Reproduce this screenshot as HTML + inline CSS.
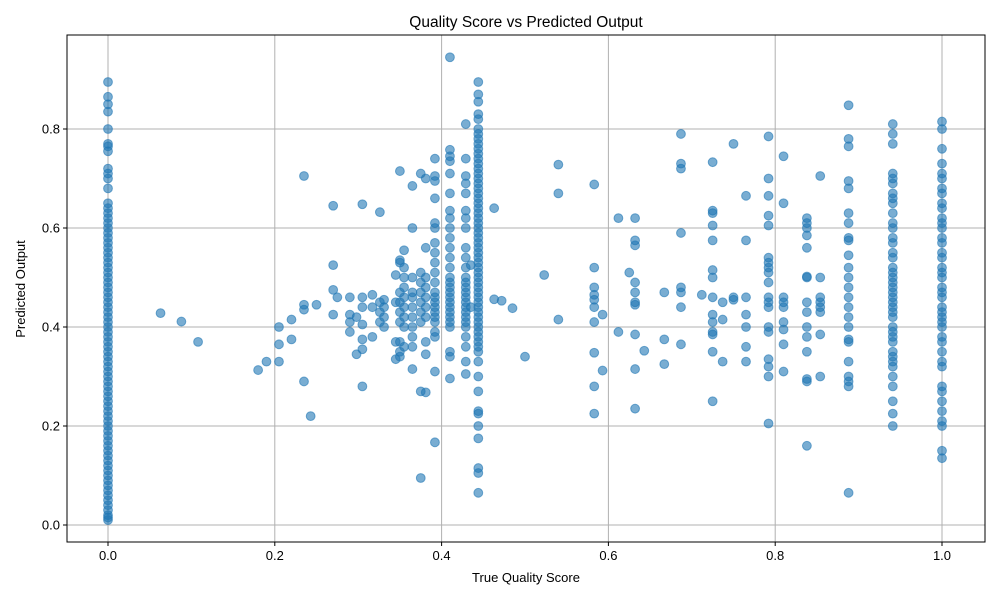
<!DOCTYPE html>
<html><head><meta charset="utf-8"><style>
body{margin:0;background:#fff;}
svg{display:block;font-family:"Liberation Sans","DejaVu Sans",sans-serif;}
</style></head><body>
<svg id="chart" width="1000" height="600">
<rect x="0" y="0" width="1000" height="600" fill="#fff"/>
<g id="grid"></g>
<g id="points"></g>
<rect x="67" y="35" width="918" height="507" fill="none" stroke="#000" stroke-width="1"/>
<g id="axes"></g>
<text x="526" y="27" text-anchor="middle" font-size="15.5">Quality Score vs Predicted Output</text>
<text x="526" y="582" text-anchor="middle" font-size="13">True Quality Score</text>
<text x="25" y="289" text-anchor="middle" font-size="13" transform="rotate(-90 25 289)">Predicted Output</text>
</svg>
<script>
const xTicks=[0,0.2,0.4,0.6,0.8,1.0];
const xTickLabels=["0.0","0.2","0.4","0.6","0.8","1.0"];
const yTicks=[0,0.2,0.4,0.6,0.8];
const yTickLabels=["0.0","0.2","0.4","0.6","0.8"];
const colX=[0,0.444,0.941,1.0,0.888,0.838,0.854,0.81,0.792,0.765,0.75,0.737,0.725,0.712,0.687,0.667,0.643,0.632,0.625,0.612,0.593,0.583,0.54,0.523,0.5,0.485,0.472,0.463,0.429,0.435,0.41,0.392,0.381,0.375,0.365,0.355,0.35,0.345,0.331,0.326,0.317,0.305,0.298,0.29,0.275,0.27,0.25,0.243,0.235,0.22,0.205,0.19,0.18,0.108,0.088,0.063];
const colY=[
[0.01,0.015,0.02,0.03,0.04,0.05,0.06,0.07,0.08,0.09,0.1,0.11,0.12,0.13,0.14,0.15,0.16,0.17,0.18,0.19,0.2,0.21,0.22,0.23,0.24,0.25,0.26,0.27,0.28,0.29,0.3,0.31,0.32,0.33,0.34,0.35,0.36,0.37,0.38,0.39,0.4,0.41,0.42,0.43,0.44,0.45,0.46,0.47,0.48,0.49,0.5,0.51,0.52,0.53,0.54,0.55,0.56,0.57,0.58,0.59,0.6,0.61,0.62,0.63,0.64,0.65,0.68,0.7,0.71,0.72,0.755,0.765,0.77,0.8,0.835,0.85,0.865,0.895],
[0.065,0.105,0.115,0.175,0.2,0.225,0.23,0.27,0.3,0.33,0.35,0.36,0.37,0.38,0.39,0.4,0.41,0.42,0.43,0.44,0.45,0.46,0.47,0.48,0.49,0.5,0.51,0.52,0.53,0.54,0.55,0.56,0.57,0.58,0.59,0.6,0.61,0.62,0.63,0.64,0.65,0.66,0.67,0.68,0.69,0.7,0.71,0.72,0.73,0.74,0.75,0.76,0.77,0.78,0.79,0.8,0.82,0.83,0.855,0.87,0.895],
[0.2,0.225,0.25,0.28,0.3,0.32,0.33,0.34,0.35,0.37,0.38,0.39,0.4,0.42,0.43,0.44,0.45,0.46,0.47,0.48,0.49,0.5,0.51,0.52,0.54,0.55,0.57,0.58,0.6,0.61,0.63,0.65,0.66,0.67,0.69,0.7,0.71,0.77,0.79,0.81],
[0.135,0.15,0.2,0.21,0.23,0.25,0.27,0.28,0.32,0.33,0.35,0.37,0.38,0.4,0.41,0.42,0.43,0.44,0.46,0.47,0.48,0.5,0.51,0.52,0.54,0.55,0.57,0.58,0.6,0.61,0.62,0.64,0.65,0.67,0.68,0.7,0.71,0.73,0.76,0.8,0.815],
[0.065,0.28,0.29,0.3,0.33,0.37,0.375,0.4,0.42,0.44,0.46,0.48,0.5,0.52,0.545,0.575,0.58,0.61,0.63,0.68,0.695,0.765,0.78,0.848],
[0.16,0.29,0.295,0.35,0.38,0.4,0.43,0.45,0.5,0.502,0.56,0.585,0.6,0.61,0.62],
[0.3,0.385,0.43,0.44,0.45,0.46,0.5,0.705],
[0.31,0.365,0.395,0.41,0.44,0.45,0.46,0.65,0.745],
[0.205,0.3,0.32,0.335,0.39,0.4,0.44,0.45,0.46,0.49,0.51,0.52,0.53,0.54,0.605,0.625,0.665,0.7,0.785],
[0.33,0.36,0.4,0.425,0.46,0.575,0.665],
[0.455,0.46,0.77],
[0.33,0.415,0.45],
[0.25,0.35,0.385,0.39,0.41,0.425,0.46,0.5,0.515,0.575,0.605,0.63,0.635,0.733],
[0.465],
[0.365,0.44,0.47,0.48,0.59,0.72,0.73,0.79],
[0.325,0.375,0.47],
[0.352],
[0.235,0.315,0.385,0.445,0.45,0.47,0.49,0.565,0.575,0.62],
[0.51],
[0.39,0.62],
[0.312,0.425],
[0.225,0.28,0.348,0.41,0.44,0.455,0.465,0.48,0.52,0.688],
[0.415,0.67,0.728],
[0.505],
[0.34],
[0.438],
[0.453],
[0.456,0.64],
[0.305,0.33,0.36,0.38,0.4,0.41,0.42,0.43,0.44,0.45,0.46,0.47,0.48,0.49,0.5,0.52,0.54,0.56,0.6,0.62,0.635,0.67,0.69,0.705,0.74,0.81],
[0.44,0.525],
[0.296,0.34,0.35,0.4,0.41,0.42,0.43,0.44,0.45,0.46,0.47,0.48,0.49,0.5,0.52,0.54,0.56,0.58,0.6,0.62,0.635,0.67,0.71,0.735,0.745,0.758,0.945],
[0.167,0.31,0.38,0.39,0.41,0.42,0.43,0.44,0.45,0.46,0.47,0.49,0.51,0.53,0.55,0.57,0.6,0.61,0.66,0.695,0.705,0.74],
[0.268,0.345,0.37,0.42,0.44,0.46,0.48,0.5,0.56,0.7],
[0.095,0.27,0.41,0.43,0.45,0.47,0.49,0.51,0.71],
[0.315,0.36,0.38,0.4,0.42,0.44,0.46,0.47,0.5,0.6,0.685],
[0.36,0.4,0.42,0.44,0.46,0.48,0.5,0.52,0.555],
[0.34,0.35,0.37,0.41,0.43,0.45,0.47,0.53,0.535,0.715],
[0.335,0.37,0.45,0.505],
[0.4,0.42,0.44,0.455],
[0.41,0.43,0.45,0.632],
[0.38,0.44,0.465],
[0.28,0.355,0.375,0.405,0.44,0.46,0.648],
[0.345,0.42],
[0.39,0.41,0.425,0.46],
[0.46],
[0.425,0.475,0.525,0.645],
[0.445],
[0.22],
[0.29,0.435,0.445,0.705],
[0.375,0.415],
[0.33,0.365,0.4],
[0.33],
[0.313],
[0.37],
[0.411],
[0.428]
];
const NS="http://www.w3.org/2000/svg";
const L=67,R=985,T=35,B=542;
function xs(v){return 108+v*834;}
function ys(v){return 525-v*495;}
const grid=document.getElementById('grid'),axes=document.getElementById('axes'),pts=document.getElementById('points');
function mk(tag,attrs,parent){const e=document.createElementNS(NS,tag);for(const k in attrs)e.setAttribute(k,attrs[k]);parent.appendChild(e);return e;}
xTicks.forEach((v,i)=>{
 const x=xs(v);
 const g=mk('line',{x1:x,x2:x,y1:T,y2:B,stroke:'#b0b0b0','stroke-width':1},grid);
 
 
 const t=mk('line',{x1:x,x2:x,y1:B,y2:B+4,stroke:'#000'},axes);
 
 
 const l=mk('text',{x:x,y:B+18,'text-anchor':'middle','font-size':13},axes);
 l.textContent=xTickLabels[i];
 
 
});
yTicks.forEach((v,i)=>{
 const y=ys(v);
 const g=mk('line',{x1:L,x2:R,y1:y,y2:y,stroke:'#b0b0b0','stroke-width':1},grid);
 
 
 const t=mk('line',{x1:L-4,x2:L,y1:y,y2:y,stroke:'#000'},axes);
 
 
 const l=mk('text',{x:L-7,y:y+4.5,'text-anchor':'end','font-size':13},axes);
 l.textContent=yTickLabels[i];
 
 
});
colX.forEach((xv,i)=>{
 colY[i].forEach(yv=>{
  const c=mk('circle',{cx:xs(xv),cy:ys(yv),r:4.4,fill:'#1f77b4','fill-opacity':0.6,stroke:'#1f77b4','stroke-opacity':0.6,'stroke-width':1},pts);
  
  
 });
});
</script>
</body></html>
